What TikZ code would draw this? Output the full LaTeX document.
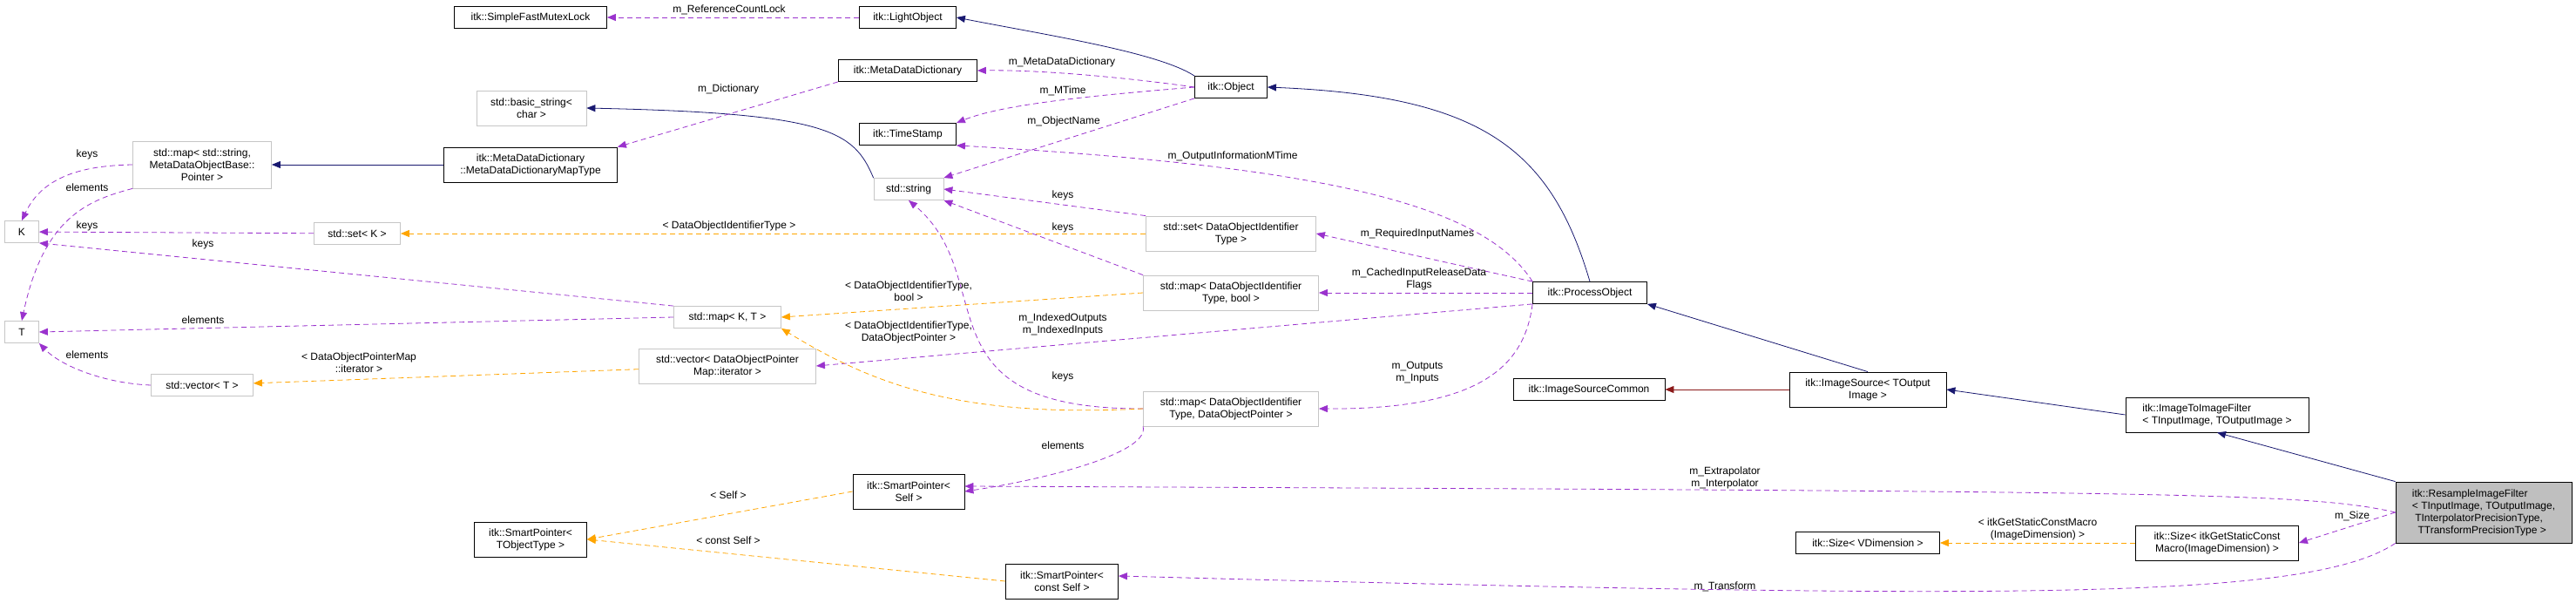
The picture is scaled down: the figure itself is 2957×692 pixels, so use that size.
\documentclass[tikz,border=0pt]{standalone}
\usepackage{fontspec}
\setmainfont{Liberation Sans}
\usepackage{xcolor}
\usetikzlibrary{arrows.meta}
\definecolor{memb}{HTML}{9A32CD}
\definecolor{tmpl}{HTML}{FFA500}
\definecolor{inh}{HTML}{191970}
\definecolor{prv}{HTML}{8B1A1A}
\tikzset{
  cls/.style={draw=black, thick, fill=white, align=center, inner sep=2pt, minimum height=25pt, font=\fontsize{12}{14}\selectfont},
  ext/.style={cls, draw=gray!45},
  lbl/.style={align=center, inner sep=0pt, font=\fontsize{12}{14}\selectfont},
  tip/.style={-{Triangle[length=10pt,width=8pt]}},
  member/.style={tip, memb, dashed, dash pattern=on 6pt off 4pt, thick},
  inst/.style={tip, tmpl, dashed, dash pattern=on 6pt off 4pt, thick},
  base/.style={tip, inh, thick},
  priv/.style={tip, prv, thick}
}
\begin{document}
\begin{tikzpicture}[x=1pt, y=-1pt]
\useasboundingbox (0,0) rectangle (2957,692);
% classes
\node (mutex) [cls, minimum width=175pt] at (609,20) {itk::SimpleFastMutexLock};
\node (light) [cls, minimum width=111pt] at (1042,20) {itk::LightObject};
\node (mdd) [cls, minimum width=159pt] at (1042,81) {itk::MetaDataDictionary};
\node (object) [cls, minimum width=83pt] at (1413,100) {itk::Object};
\node (bstr) [ext, minimum width=126pt, minimum height=40pt] at (610,124) {std::basic\_string\textless\\char \textgreater};
\node (stamp) [cls, minimum width=111pt] at (1042,154) {itk::TimeStamp};
\node (strmap) [ext, minimum width=159pt, minimum height=54pt] at (232,189) {std::map\textless{} std::string,\\MetaDataObjectBase::\\Pointer \textgreater};
\node (mddmap) [cls, minimum width=199pt, minimum height=40pt] at (609,189) {itk::MetaDataDictionary\\::MetaDataDictionaryMapType};
\node (str) [ext, minimum width=80pt] at (1043,217) {std::string};
\node (K) [ext, minimum width=39pt] at (25,266) {K};
\node (setK) [ext, minimum width=99pt] at (410,268) {std::set\textless{} K \textgreater};
\node (setid) [ext, minimum width=195pt, minimum height=40pt] at (1413,268) {std::set\textless{} DataObjectIdentifier\\Type \textgreater};
\node (mapbool) [ext, minimum width=201pt, minimum height=40pt] at (1413,336) {std::map\textless{} DataObjectIdentifier\\Type, bool \textgreater};
\node (proc) [cls, minimum width=131pt] at (1825,336) {itk::ProcessObject};
\node (mapKT) [ext, minimum width=123pt] at (835,364) {std::map\textless{} K, T \textgreater};
\node (T) [ext, minimum width=39pt] at (25,381) {T};
\node (vecit) [ext, minimum width=203pt, minimum height=40pt] at (835,420) {std::vector\textless{} DataObjectPointer\\Map::iterator \textgreater};
\node (vecT) [ext, minimum width=117pt] at (232,442) {std::vector\textless{} T \textgreater};
\node (srccommon) [cls, minimum width=174pt] at (1824,447) {itk::ImageSourceCommon};
\node (src) [cls, minimum width=180pt, minimum height=40pt] at (2144,447) {itk::ImageSource\textless{} TOutput\\Image \textgreater};
\node (mapptr) [ext, minimum width=201pt, minimum height=40pt] at (1413,469) {std::map\textless{} DataObjectIdentifier\\Type, DataObjectPointer \textgreater};
\node (i2i) [cls, minimum width=210pt, minimum height=40pt, align=left] at (2545,476) {itk::ImageToImageFilter\\\textless{} TInputImage, TOutputImage \textgreater};
\node (spself) [cls, minimum width=128pt, minimum height=40pt] at (1043,564) {itk::SmartPointer\textless\\Self \textgreater};
\node (resample) [cls, fill=gray!50, minimum width=202pt, minimum height=70pt, align=left] at (2851,588) {itk::ResampleImageFilter\\\textless{} TInputImage, TOutputImage,\\\ TInterpolatorPrecisionType,\\\ \ TTransformPrecisionType \textgreater};
\node (spobj) [cls, minimum width=129pt, minimum height=40pt] at (609,619) {itk::SmartPointer\textless\\TObjectType \textgreater};
\node (sizev) [cls, minimum width=165pt] at (2144,623) {itk::Size\textless{} VDimension \textgreater};
\node (sizem) [cls, minimum width=187pt, minimum height=40pt] at (2545,623) {itk::Size\textless{} itkGetStaticConst\\Macro(ImageDimension) \textgreater};
\node (spconst) [cls, minimum width=129pt, minimum height=40pt] at (1219,667) {itk::SmartPointer\textless\\const Self \textgreater};

% inheritance
\draw [base] (object.north west) .. controls (1330,60) and (1200,40) .. (light.east);
\draw [base] (proc.north) .. controls (1780,170) and (1700,110) .. (object.east);
\draw [base] (str.north west) .. controls (980,150) and (950,130) .. (bstr.east);
\draw [base] (mddmap) -- (strmap);
\draw [base] (src.north) -- (proc.south east);
\draw [base] (i2i.west) -- (src.east);
\draw [base] (resample.north west) -- (i2i.south);
\draw [priv] (src) -- (srccommon);

% members
\draw [member] (light) -- (mutex);
\node (lmutex) [lbl] at (837,11) {m\_ReferenceCountLock};
\draw [member] (object.west) .. controls (1300,90) and (1200,80) .. (mdd.east);
\node (lmdd) [lbl] at (1219,71) {m\_MetaDataDictionary};
\draw [member] (object.west) .. controls (1250,110) and (1150,120) .. (stamp.north east);
\node (lmtime) [lbl] at (1220,104) {m\_MTime};
\draw [member] (object.south west) -- (str.north east);
\node (lname) [lbl] at (1221,139) {m\_ObjectName};
\draw [member] (mdd.south west) -- (mddmap.north east);
\node (ldict) [lbl] at (836,102) {m\_Dictionary};
\draw [member] (strmap.west) .. controls (100,190) and (50,200) .. (K.north);
\node (lk1) [lbl] at (100,177) {keys};
\draw [member] (strmap.south west) .. controls (100,230) and (50,250) .. (T.north);
\node (le1) [lbl] at (100,215) {elements};
\draw [member] (setK) -- (K);
\node (lk2) [lbl] at (100,259) {keys};
\draw [member] (mapKT.north west) -- (K.south east);
\node (lk3) [lbl] at (233,280) {keys};
\draw [member] (mapKT.west) -- (T.east);
\node (le2) [lbl] at (233,367) {elements};
\draw [member] (vecT.west) .. controls (120,440) and (70,420) .. (T.south east);
\node (le3) [lbl] at (100,407) {elements};
\draw [member] (setid.north west) -- (str.east);
\node (lk4) [lbl] at (1220,224) {keys};
\draw [member] (mapbool.north west) -- (str.south east);
\node (lk5) [lbl] at (1220,261) {keys};
\draw [member] (mapptr.west) .. controls (1050,470) and (1150,320) .. (str.south);
\node (lk6) [lbl] at (1220,432) {keys};
\draw [member] (proc.north west) .. controls (1700,230) and (1500,190) .. (stamp.south east);
\node (lomt) [lbl] at (1415,179) {m\_OutputInformationMTime};
\draw [member] (proc.north west) -- (setid.east);
\node (lreq) [lbl] at (1627,268) {m\_RequiredInputNames};
\draw [member] (proc) -- (mapbool);
\node (lcache) [lbl] at (1629,320) {m\_CachedInputReleaseData\\Flags};
\draw [member] (proc.south west) -- (vecit.east);
\node (lidx) [lbl] at (1220,372) {m\_IndexedOutputs\\m\_IndexedInputs};
\draw [member] (proc.south west) .. controls (1750,420) and (1700,470) .. (mapptr.east);
\node (lout) [lbl] at (1627,428) {m\_Outputs\\m\_Inputs};
\draw [member] (mapptr.south west) .. controls (1320,520) and (1200,550) .. (spself.east);
\node (lelem) [lbl] at (1220,511) {elements};
\draw [member] (resample.west) .. controls (2650,565) and (2500,564) .. ([yshift=6pt]spself.east);
\node (linterp) [lbl] at (1980,548) {m\_Extrapolator\\m\_Interpolator};
\draw [member] (resample.west) -- (sizem.east);
\node (lsize) [lbl] at (2700,592) {m\_Size};
\draw [member] (resample.south west) .. controls (2650,690) and (2300,688) .. ([yshift=6pt]spconst.east);
\node (ltrans) [lbl] at (1980,673) {m\_Transform};

% template instances
\draw [inst] (setid) -- (setK);
\node (lsetid) [lbl] at (837,259) {\textless{} DataObjectIdentifierType \textgreater};
\draw [inst] (mapbool.west) -- (mapKT.east);
\node (lmapbool) [lbl] at (1043,334) {\textless{} DataObjectIdentifierType,\\bool \textgreater};
\draw [inst] (mapptr.west) .. controls (1100,480) and (1000,440) .. (mapKT.south east);
\node (lmapptr) [lbl] at (1043,381) {\textless{} DataObjectIdentifierType,\\DataObjectPointer \textgreater};
\draw [inst] (vecit) -- (vecT);
\node (lvec) [lbl] at (412,416) {\textless{} DataObjectPointerMap\\::iterator \textgreater};
\draw [inst] (spself.west) -- (spobj.east);
\node (lself) [lbl] at (836,568) {\textless{} Self \textgreater};
\draw [inst] (spconst.west) -- (spobj.east);
\node (lconst) [lbl] at (836,620) {\textless{} const Self \textgreater};
\draw [inst] (sizem) -- (sizev);
\node (lsizem) [lbl] at (2339,607) {\textless{} itkGetStaticConstMacro\\(ImageDimension) \textgreater};
\end{tikzpicture}
\end{document}
